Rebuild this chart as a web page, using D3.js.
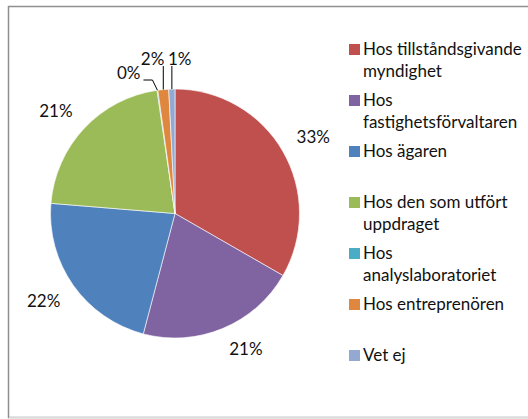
<!DOCTYPE html>
<html>
<head>
<meta charset="utf-8">
<script src="https://cdn.jsdelivr.net/npm/d3@7"></script>
<style>
  body { margin: 0; background: #fff; }
  text { font-family: Lato, "Noto Sans", sans-serif; fill: #111; }
</style>
</head>
<body>
<div id="chart"></div>
<script>
var width = 528, height = 419;

// slices as drawn, clockwise from 12 o'clock
var categories = ["Hos tillståndsgivande myndighet", "Hos fastighetsförvaltaren", "Hos ägaren",
  "Hos den som utfört uppdraget", "Hos analyslaboratoriet", "Hos entreprenören", "Vet ej"];
var values = [33.3, 20.8, 22.2, 21.4, 0.1, 1.4, 0.8];
var labelTexts = ["33%", "21%", "22%", "21%", "0%", "2%", "1%"];
var legendLines = [["Hos tillståndsgivande", "myndighet"], ["Hos", "fastighetsförvaltaren"], ["Hos ägaren"],
  ["Hos den som utfört", "uppdraget"], ["Hos", "analyslaboratoriet"], ["Hos entreprenören"], ["Vet ej"]];
var colors = ["#C0504D", "#8064A2", "#4F81BD", "#9BBB59", "#4BACC6", "#E0873F", "#93A9D2"];

var cx = 175, cy = 213.5, radius = 124.5;
var fontSize = 17;

var svg = d3.select("#chart").append("svg")
  .attr("width", width)
  .attr("height", height);

// chart frame
svg.append("rect")
  .attr("x", 8.5).attr("y", 6.5)
  .attr("width", 540).attr("height", 411)
  .attr("fill", "none")
  .attr("stroke", "#8f8f8f")
  .attr("stroke-width", 1.5);
svg.append("line")
  .attr("x1", 9).attr("x2", width)
  .attr("y1", 417.5).attr("y2", 417.5)
  .attr("stroke", "#dcdcdc");

var color = d3.scaleOrdinal().domain(categories).range(colors);

var pie = d3.pie().sort(null).value(function(d) { return d; });
var arcs = pie(values);
var arc = d3.arc().innerRadius(0).outerRadius(radius);

var g = svg.append("g").attr("transform", "translate(" + cx + "," + cy + ")");

g.selectAll("path.slice")
  .data(arcs)
  .enter().append("path")
  .attr("class", "slice")
  .attr("d", arc)
  .attr("fill", function(d, i) { return color(categories[i]); })
  .attr("stroke", "#fff")
  .attr("stroke-width", 0.6);

// big slices: nearest corner of the label box sits on the mid-angle ray
var labelR = radius + 16, capH = 12;
arcs.forEach(function(d, i) {
  if (values[i] < 3) return;
  var a = (d.startAngle + d.endAngle) / 2;
  var px = labelR * Math.sin(a), py = -labelR * Math.cos(a);
  g.append("text")
    .attr("font-size", fontSize)
    .attr("text-anchor", Math.sin(a) >= 0 ? "start" : "end")
    .attr("x", px)
    .attr("y", Math.cos(a) > 0 ? py : py + capH)
    .text(labelTexts[i]);
});

// small slices get labels above the pie with leader lines
var rowY = -radius - 24;
arcs.forEach(function(d, i) {
  if (values[i] >= 3) return;
  var a = (d.startAngle + d.endAngle) / 2;
  var x0 = radius * Math.sin(a), y0 = -radius * Math.cos(a);
  if (i === 6) {
    g.append("path").attr("d", "M" + x0 + "," + y0 + "V" + (rowY + 1))
      .attr("stroke", "#000").attr("fill", "none");
    g.append("text").attr("font-size", fontSize).attr("x", x0 - 4).attr("y", rowY)
      .attr("text-anchor", "start").text(labelTexts[i]);
  } else if (i === 5) {
    g.append("path").attr("d", "M" + x0 + "," + y0 + "V" + (rowY + 1))
      .attr("stroke", "#000").attr("fill", "none");
    g.append("text").attr("font-size", fontSize).attr("x", x0 + 1).attr("y", rowY)
      .attr("text-anchor", "end").text(labelTexts[i]);
  } else {
    var ey = rowY + 15;
    g.append("path").attr("d", "M" + x0 + "," + y0 + "L" + (x0 - 5) + "," + ey + "H" + (x0 - 14))
      .attr("stroke", "#000").attr("fill", "none");
    g.append("text").attr("font-size", fontSize).attr("x", x0 - 17).attr("y", rowY + 14)
      .attr("text-anchor", "end").text(labelTexts[i]);
  }
});

// legend
var legendY = d3.scalePoint().domain(categories).range([44, 350]);
var leg = svg.selectAll("g.legend")
  .data(categories)
  .enter().append("g")
  .attr("class", "legend")
  .attr("transform", function(d) { return "translate(349," + legendY(d) + ")"; });

leg.append("rect")
  .attr("width", 11).attr("height", 11)
  .attr("fill", function(d) { return color(d); });

leg.append("text")
  .attr("font-size", fontSize)
  .attr("x", 14)
  .attr("y", 11)
  .selectAll("tspan")
  .data(function(d, i) { return legendLines[i]; })
  .enter().append("tspan")
  .attr("x", 14)
  .attr("dy", function(d, j) { return j === 0 ? 0 : 22; })
  .text(function(d) { return d; });
</script>
</body>
</html>
